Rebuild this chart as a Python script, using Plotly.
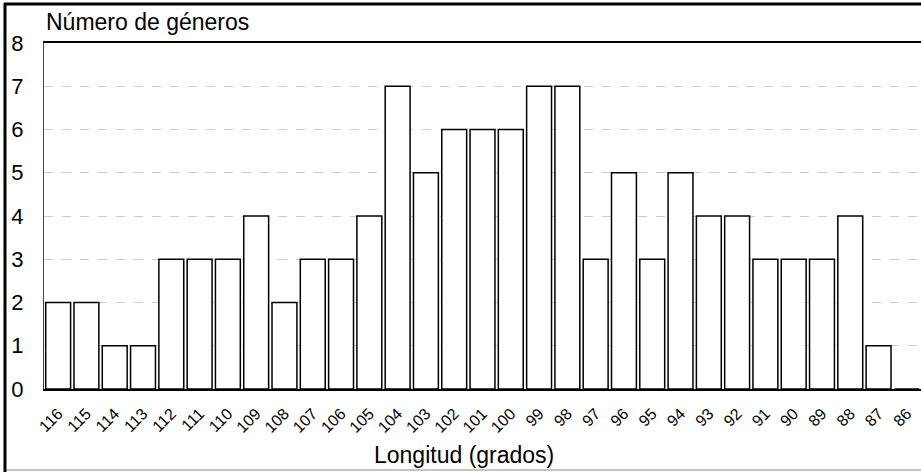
import plotly.graph_objects as go

longitudes = ["116", "115", "114", "113", "112", "111", "110", "109", "108", "107",
              "106", "105", "104", "103", "102", "101", "100", "99", "98", "97",
              "96", "95", "94", "93", "92", "91", "90", "89", "88", "87", "86"]
generos = [2, 2, 1, 1, 3, 3, 3, 4, 2, 3,
           3, 4, 7, 5, 6, 6, 6, 7, 7, 3,
           5, 3, 5, 4, 4, 3, 3, 3, 4, 1, 0]
y_ticks = [0, 1, 2, 3, 4, 5, 6, 7, 8]

FONT = "Liberation Sans, Arial, sans-serif"

fig = go.Figure()
fig.add_trace(go.Bar(
    x=longitudes, y=generos,
    marker=dict(color="white", line=dict(color="black", width=1.5)),
    hoverinfo="x+y",
))

W, H = 921, 472
ML, MR, MT, MB = 44, 0, 43, 83
pw = W - ML - MR
ph = H - MT - MB

def px_x(px):
    return (px - ML) / pw

def px_y(py):
    return (H - MB - py) / ph

fig.update_layout(
    width=W, height=H,
    margin=dict(l=ML, r=MR, t=MT, b=MB, pad=0, autoexpand=False),
    paper_bgcolor="white", plot_bgcolor="white",
    bargap=0.12,
    showlegend=False,
    font=dict(family=FONT, color="black"),
    xaxis=dict(
        type="category", categoryorder="array", categoryarray=longitudes,
        tickangle=-45, tickfont=dict(size=16, family=FONT, color="black"),
        showline=True, mirror=True, linecolor="black", linewidth=2,
        ticks="", showgrid=False, ticklabelstandoff=7, automargin=False,
    ),
    yaxis=dict(
        range=[0, 8], tickvals=y_ticks,
        tickfont=dict(size=22, family=FONT, color="black"),
        showline=True, linecolor="#444444", linewidth=1,
        showgrid=True, gridcolor="#cccccc", griddash="dash", gridwidth=1,
        zeroline=False, ticks="", ticklabelstandoff=15, automargin=False,
    ),
    annotations=[
        dict(text="Número de géneros", xref="paper", yref="paper",
             x=0, y=px_y(22), xanchor="left", yanchor="middle",
             showarrow=False, font=dict(size=23, family=FONT, color="black")),
        dict(text="Longitud (grados)", xref="paper", yref="paper",
             x=px_x(464), y=px_y(455), xanchor="center", yanchor="middle",
             showarrow=False, font=dict(size=23, family=FONT, color="black")),
    ],
    shapes=[
        dict(type="line", xref="paper", yref="paper",
             x0=px_x(5), x1=px_x(5), y0=px_y(3), y1=px_y(472),
             line=dict(color="black", width=3)),
        dict(type="line", xref="paper", yref="paper",
             x0=px_x(4), x1=px_x(921), y0=px_y(4), y1=px_y(4),
             line=dict(color="black", width=3)),
        dict(type="line", xref="paper", yref="paper",
             x0=px_x(6), x1=px_x(921), y0=px_y(470), y1=px_y(470),
             line=dict(color="#888888", width=1)),
    ],
)

fig.write_html(
    "out.html",
    config={"displayModeBar": False},
    post_script="document.body.style.margin='0';document.body.style.padding='0';"
                "document.body.style.overflow='hidden';",
)
